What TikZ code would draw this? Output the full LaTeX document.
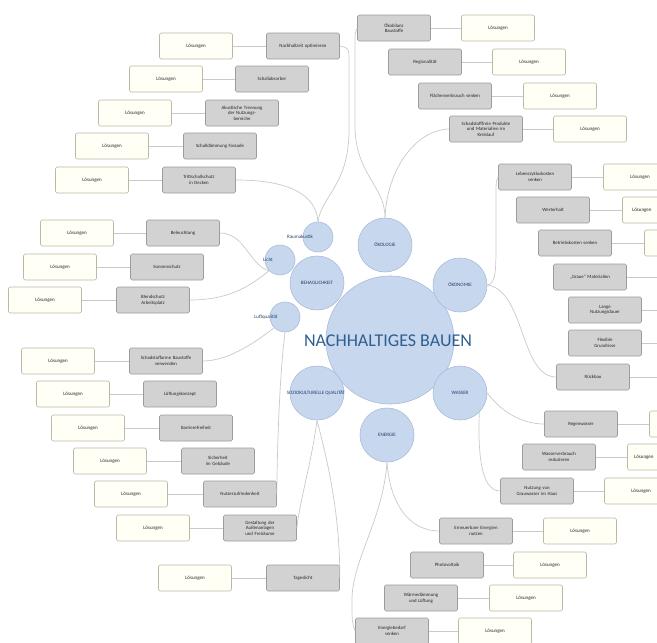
\documentclass[tikz,border=0pt]{standalone}
\usepackage{fontspec}
\setmainfont{Carlito}
\definecolor{boxgray}{HTML}{D2D2D2}
\definecolor{boxline}{HTML}{9C9C9C}
\definecolor{cream}{HTML}{FFFFF5}
\definecolor{creamline}{HTML}{B9B9A6}
\definecolor{bubble}{HTML}{C7D7EE}
\definecolor{bubbleline}{HTML}{A9BCDA}
\definecolor{titleblue}{HTML}{2F5F90}
\definecolor{darkblue}{HTML}{233F66}
\definecolor{wire}{HTML}{C9C9C9}
\tikzset{
  topic/.style={draw=boxline, fill=boxgray, rounded corners=1.5pt, line width=0.6pt,
    minimum width=73pt, minimum height=26pt, text width=68pt, align=center,
    inner sep=1pt, font=\fontsize{4.8}{5.6}\selectfont, text=black!85},
  answer/.style={draw=creamline, fill=cream, rounded corners=2pt, line width=0.6pt,
    minimum width=73pt, minimum height=26pt, align=center,
    font=\fontsize{5}{6}\selectfont, text=black!85},
  answertext/.style={font=\fontsize{5}{6}\selectfont, text=black!85, inner sep=0pt},
  hub/.style={circle, draw=bubbleline, fill=bubble, line width=0.6pt, inner sep=0pt},
  bigbubble/.style={hub, minimum size=128pt},
  bubblenode/.style={hub, minimum size=54pt},
  smallbubble/.style={hub, minimum size=30pt},
  caption/.style={font=\fontsize{5}{6}\selectfont, text=darkblue, inner sep=0pt},
  wirelink/.style={draw=wire, line width=0.7pt},
}
\begin{document}
\begin{tikzpicture}[x=1pt,y=-1pt]
\useasboundingbox (0,0) rectangle (657,643);
\clip (0,0) rectangle (657,643);

% ---------- bubbles ----------
\node[bigbubble] (core) at (390,340) {};
\node[bubblenode] (oeko)  at (385,245) {};
\node[bubblenode] (geld)  at (460,285) {};
\node[bubblenode] (wasser) at (460,393) {};
\node[bubblenode] (energie) at (387,435) {};
\node[bubblenode] (sozio) at (317,393) {};
\node[bubblenode] (behag) at (317,283) {};
\node[smallbubble] (akustik) at (318,237) {};
\node[smallbubble] (licht) at (280,260) {};
\node[smallbubble] (luft) at (285,317) {};

\node[font=\fontsize{18}{20}\selectfont, text=titleblue, inner sep=0pt] (title) at (388,341) {NACHHALTIGES BAUEN};
\node[caption] (toekoc) at (385,245) {ÖKOLOGIE};
\node[caption] (tgeld) at (460,285) {ÖKONOMIE};
\node[caption] (twasser) at (460,393) {WASSER};
\node[caption] (tenergie) at (387,435) {ENERGIE};
\node[caption] (tsozio) at (316,393) {SOZIOKULTURELLE QUALITÄT};
\node[caption] (tbehag) at (317,283) {BEHAGLICHKEIT};
\node[caption] (takustik) at (300,237) {Raumakustik};
\node[caption] (tlicht) at (268,260) {Licht};
\node[caption] (tluft) at (266,317) {Luftqualität};

% ---------- upper left: Raumakustik ----------
\node[topic] (a1) at (303,46)  {Nachhallzeit optimieren};
\node[topic] (a2) at (272,79)  {Schallabsorber};
\node[topic] (a3) at (242,113) {Akustische Trennung\\der Nutzungs-\\bereiche};
\node[topic] (a4) at (220,146) {Schalldämmung Fassade};
\node[topic] (a5) at (199,180) {Trittschallschutz\\in Decken};
\node[answer] (a1w) at (196,46)  {Lösungen};
\node[answer] (a2w) at (166,79)  {Lösungen};
\node[answer] (a3w) at (135,113) {Lösungen};
\node[answer] (a4w) at (112,146) {Lösungen};
\node[answer] (a5w) at (92,180)  {Lösungen};

% ---------- upper right: Ökologie ----------
\node[topic] (o1) at (394,28)  {Ökobilanz\\Baustoffe};
\node[topic] (o2) at (425,62)  {Regionalität};
\node[topic] (o3) at (455,96)  {Flächenverbrauch senken};
\node[topic] (o4) at (486,129) {Schadstofffreie Produkte\\und Materialien im\\Kreislauf};
\node[answer] (o1w) at (498,28)  {Lösungen};
\node[answer] (o2w) at (529,62)  {Lösungen};
\node[answer] (o3w) at (560,96)  {Lösungen};
\node[answer] (o4w) at (590,129) {Lösungen};

% ---------- right: Ökonomie (solution boxes run past the edge) ----------
\node[topic] (e1) at (535,177) {Lebenszykluskosten\\senken};
\node[topic] (e2) at (553,210) {Werterhalt};
\node[topic] (e3) at (575,243) {Betriebskosten senken};
\node[topic] (e4) at (590,277) {„Graue“ Materialien};
\node[topic] (e5) at (605,310) {Lange\\Nutzungsdauer};
\node[topic] (e6) at (605,343) {Flexible\\Grundrisse};
\node[topic] (e7) at (593,377) {Rückbau};
\node[answer] (e1w) at (640,177) {Lösungen};
\node[answer] (e2w) at (659,210) {};
\node[answertext, anchor=west] (e2t) at (632,210) {Lösungen};
\node[answer] (e3w) at (681,243) {};
\node[answer] (e4w) at (696,277) {};
\node[answer] (e5w) at (711,310) {};
\node[answer] (e6w) at (711,343) {};
\node[answer] (e7w) at (699,377) {};

% ---------- lower right: Wasser ----------
\node[topic] (w1) at (581,424) {Regenwasser};
\node[topic] (w2) at (559,457) {Wasserverbrauch\\reduzieren};
\node[topic] (w3) at (537,491) {Nutzung von\\Grauwasser im Haus};
\node[answer] (w1w) at (686,424) {};
\node[answer] (w2w) at (664,457) {};
\node[answertext, anchor=west] (w2t) at (634,457) {Lösungen};
\node[answer] (w3w) at (641,491) {Lösungen};

% ---------- bottom: Energie ----------
\node[topic] (n1) at (476,531) {Erneuerbare Energien\\nutzen};
\node[topic] (n2) at (447,565) {Photovoltaik};
\node[topic] (n3) at (421,598) {Wärmedämmung\\und Lüftung};
\node[topic] (n4) at (392,631) {Energiebedarf\\senken};
\node[answer] (n1w) at (580,531) {Lösungen};
\node[answer] (n2w) at (550,565) {Lösungen};
\node[answer] (n3w) at (526,598) {Lösungen};
\node[answer] (n4w) at (495,631) {Lösungen};

% ---------- lower left: Luftqualität / Soziokulturelle Qualität ----------
\node[topic] (s1) at (166,361) {Schadstoffarme Baustoffe\\verwenden};
\node[topic] (s2) at (180,394) {Lüftungskonzept};
\node[topic] (s3) at (196,428) {Barrierefreiheit};
\node[topic] (s4) at (218,461) {Sicherheit\\im Gebäude};
\node[topic] (s5) at (240,494) {Nutzerzufriedenheit};
\node[topic] (s6) at (260,528) {Gestaltung der\\Außenanlagen\\und Freiräume};
\node[topic] (s7) at (303,578) {Tageslicht};
\node[answer] (s1w) at (58,361)  {Lösungen};
\node[answer] (s2w) at (73,394)  {Lösungen};
\node[answer] (s3w) at (88,428)  {Lösungen};
\node[answer] (s4w) at (110,461) {Lösungen};
\node[answer] (s5w) at (131,494) {Lösungen};
\node[answer] (s6w) at (153,528) {Lösungen};
\node[answer] (s7w) at (195,578) {Lösungen};

% ---------- left: Licht ----------
\node[topic] (l1) at (183,233) {Beleuchtung};
\node[topic] (l2) at (167,267) {Sonnenschutz};
\node[topic] (l3) at (153,300) {Blendschutz\\Arbeitsplatz};
\node[answer] (l1w) at (77,233) {Lösungen};
\node[answer] (l2w) at (60,267) {Lösungen};
\node[answer] (l3w) at (45,300) {Lösungen};

% ---------- topic to solution links ----------
\foreach \t in {a1,a2,a3,a4,a5,s1,s2,s3,s4,s5,s6,s7,l1,l2,l3}
  \draw[wirelink] (\t.west) -- (\t w.east);
\foreach \t in {o1,o2,o3,o4,e1,e2,e3,e4,e5,e6,e7,w1,w2,w3,n1,n2,n3,n4}
  \draw[wirelink] (\t.east) -- (\t w.west);

% ---------- branches from the bubbles ----------
\draw[wirelink] (akustik.north) .. controls (322,195) and (349,185) .. (349,130)
  -- (349,62) .. controls (349,48) .. (a1.east);
\draw[wirelink] (akustik.north) .. controls (316,195) and (290,180) .. (a5.east);

\draw[wirelink] (oeko.north) .. controls (385,185) and (355,175) .. (355,125)
  -- (355,45) .. controls (355,32) .. (o1.west);
\draw[wirelink] (oeko.north) .. controls (387,170) and (415,130) .. (o4.west);

\draw[wirelink] (geld.east) .. controls (496,284) and (496,270) .. (496,240)
  -- (496,195) .. controls (496,182) .. (e1.west);
\draw[wirelink] (geld.east) .. controls (525,290) and (520,377) .. (e7.west);

\draw[wirelink] (wasser.east) .. controls (500,410) and (520,424) .. (w1.west);
\draw[wirelink] (wasser.south east) .. controls (478,450) and (480,491) .. (w3.west);

\draw[wirelink] (energie.south) .. controls (390,505) and (410,531) .. (n1.west);
\draw[wirelink] (energie.south) .. controls (383,520) and (352,560) .. (352,600)
  .. controls (352,622) .. (n4.west);

\draw[wirelink] (luft.south west) .. controls (258,340) and (230,361) .. (s1.east);
\draw[wirelink] (luft.south) .. controls (279,380) and (277,460) .. (s5.east);
\draw[wirelink] (sozio.south) .. controls (312,460) and (300,500) .. (s6.east);
\draw[wirelink] (sozio.south) .. controls (326,455) and (340,510) .. (s7.east);

\draw[wirelink] (l1.east) .. controls (245,233) and (250,266) .. (licht.south west);
\draw[wirelink] (l3.east) .. controls (232,300) and (252,284) .. (licht.south west);
\end{tikzpicture}
\end{document}
